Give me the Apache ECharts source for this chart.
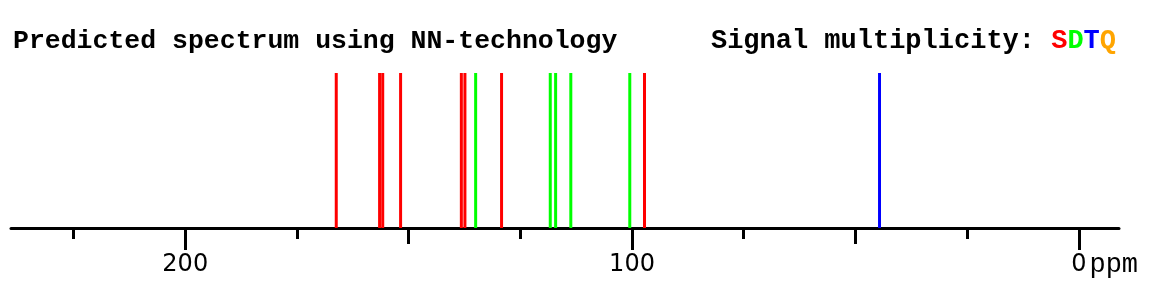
<!DOCTYPE html>
<html><head><meta charset="utf-8">
<script src="https://cdn.jsdelivr.net/npm/echarts@6/dist/echarts.min.js"></script>
<style>html,body{margin:0;padding:0;background:#fff}#c{width:1173px;height:290px}</style>
</head><body><div id="c"></div>
<script>
// Predicted 13C shifts (ppm) and their multiplicity
const shifts = [166.2, 156.5, 155.8, 151.8, 138.2, 137.4, 135.0, 129.2, 118.3, 117.1, 113.7, 100.5, 97.2, 44.6];
const multiplicity = ['S', 'S', 'S', 'S', 'S', 'S', 'D', 'S', 'D', 'D', 'D', 'D', 'S', 'T'];
const intensities = [1, 1, 1, 1, 1, 1, 1, 1, 1, 1, 1, 1, 1, 1];
const multTypes = ['S', 'D', 'T', 'Q'];
const multColors = {S: '#ff0000', D: '#00ff00', T: '#0000ff', Q: '#ffa500'};
const majorTicks = [200, 100, 0];
const mediumTicks = [150, 50];
const minorTicks = [225, 175, 125, 75, 25];
const axisMin = -9, axisMax = 239;

const chart = echarts.init(document.getElementById('c'), null, {renderer: 'canvas'});
const mono = '"Liberation Mono", "Courier New", monospace';

function renderLine(params, api) {
  const x = api.value(0);
  const p0 = api.coord([x, 0]);
  const p1 = api.coord([x, api.value(1)]);
  return {type: 'line', shape: {x1: p0[0], y1: p0[1], x2: p1[0], y2: p1[1]},
    style: {stroke: api.visual('color'), lineWidth: 3}};
}

const series = multTypes.map(m => ({
  type: 'custom', name: m, xAxisIndex: 0, yAxisIndex: 0,
  itemStyle: {color: multColors[m]},
  renderItem: renderLine,
  data: shifts.map((s, i) => [s, intensities[i], multiplicity[i]]).filter(d => d[2] === m).map(d => [d[0], d[1]])
}));

function tickAxis(vals, len, showLine, showLabel) {
  return {
    type: 'value', min: axisMin, max: axisMax, inverse: true, position: 'bottom',
    splitLine: {show: false},
    axisLine: {show: showLine, onZero: false, lineStyle: {color: '#000', width: 3}},
    axisTick: {show: true, customValues: vals, length: len, lineStyle: {color: '#000', width: 3}},
    axisLabel: showLabel ? {
      show: true, customValues: vals, margin: 23,
      color: '#000', fontFamily: 'DejaVu Sans', fontSize: 24, lineHeight: 28,
      formatter: v => v === 0 ? '{h|ppm}{z|0}{u|ppm}' : '{z|' + v + '}',
      rich: {
        h: {fontFamily: mono, fontSize: 27, lineHeight: 28, color: 'rgba(0,0,0,0)', padding: [0, 3, 0, 0]},
        z: {fontFamily: 'DejaVu Sans', fontSize: 24, lineHeight: 28, color: '#000'},
        u: {fontFamily: mono, fontSize: 27, lineHeight: 28, color: '#000', padding: [0, 0, 0, 3]}
      }
    } : {show: false}
  };
}

chart.setOption({
  animation: false,
  backgroundColor: '#fff',
  title: [
    {text: 'Predicted spectrum using NN-technology', left: 8, top: 23,
      textStyle: {fontFamily: mono, fontWeight: 'bold', fontSize: 26.5, color: '#000'}},
    {text: 'Signal multiplicity: {s|S}{d|D}{t|T}{q|Q}', right: 52, top: 23,
      textStyle: {fontFamily: mono, fontWeight: 'bold', fontSize: 27, color: '#000',
        rich: {
          s: {fontFamily: mono, fontWeight: 'bold', fontSize: 27, color: multColors.S},
          d: {fontFamily: mono, fontWeight: 'bold', fontSize: 27, color: multColors.D},
          t: {fontFamily: mono, fontWeight: 'bold', fontSize: 27, color: multColors.T},
          q: {fontFamily: mono, fontWeight: 'bold', fontSize: 27, color: multColors.Q}
        }}}
  ],
  grid: {left: 11, right: 54, top: 73, bottom: 62, containLabel: false},
  xAxis: [
    tickAxis(majorTicks, 22, true, true),
    tickAxis(mediumTicks, 16, false, false),
    tickAxis(minorTicks, 11, false, false)
  ],
  yAxis: {type: 'value', min: 0, max: 1, show: false},
  series: series
});
</script></body></html>
